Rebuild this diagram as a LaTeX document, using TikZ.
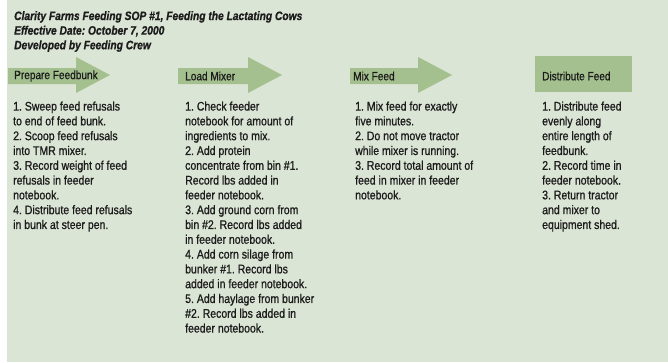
\documentclass[tikz,border=0pt]{standalone}
\usepackage{fontspec}
\setmainfont[FakeStretch=0.84,FakeBold=0.9]{Liberation Sans}
\frenchspacing
\definecolor{bgc}{HTML}{DBE5D5}
\definecolor{arrc}{HTML}{A4C08F}
\definecolor{txtc}{HTML}{1C1C1C}
\begin{document}
\begin{tikzpicture}[x=1pt,y=-1pt,
  stepshape/.style={fill=arrc,draw=none},
  title/.style={anchor=north west,inner sep=0pt,align=left,text=txtc,font=\fontsize{12.2}{14.6}\selectfont\bfseries\itshape},
  steplabel/.style={anchor=west,inner sep=0pt,text=txtc,font=\fontsize{12}{14}\selectfont},
  body/.style={anchor=north west,inner sep=0pt,align=left,text=txtc,font=\fontsize{12.5}{14.8}\selectfont}]
\useasboundingbox (0,0) rectangle (668,362);
\fill[white] (0,0) rectangle (668,362);
\fill[bgc] (7,0) rectangle (668,362);
% title
\node[title] (t) at (14,11) {Clarity Farms Feeding SOP \#1, Feeding the Lactating Cows\\Effective Date: October 7, 2000\\Developed by Feeding Crew};
% arrows
\fill[stepshape] (8,68) -- (76,68) -- (76,57) -- (110,75) -- (76,93) -- (76,84) -- (8,84) -- cycle;
\fill[stepshape] (178,68) -- (248,68) -- (248,57) -- (282,75) -- (248,93) -- (248,84) -- (178,84) -- cycle;
\fill[stepshape] (350,68) -- (418,68) -- (418,57) -- (452,75) -- (418,93) -- (418,84) -- (350,84) -- cycle;
\fill[stepshape] (535,56) rectangle (632,92);
\node[steplabel] (s1) at (14,76) {Prepare Feedbunk};
\node[steplabel] (s2) at (185,76) {Load Mixer};
\node[steplabel] (s3) at (353,76) {Mix Feed};
\node[steplabel] (s4) at (542,76) {Distribute Feed};
% bodies
\node[body] (b1) at (13,100) {\strut 1. Sweep feed refusals\\to end of feed bunk.\\2. Scoop feed refusals\\into TMR mixer.\\3. Record weight of feed\\refusals in feeder\\notebook.\\4. Distribute feed refusals\\in bunk at steer pen.};
\node[body] (b2) at (185,100) {\strut 1. Check feeder\\notebook for amount of\\ingredients to mix.\\2. Add protein\\concentrate from bin \#1.\\Record lbs added in\\feeder notebook.\\3. Add ground corn from\\bin \#2. Record lbs added\\in feeder notebook.\\4. Add corn silage from\\bunker \#1. Record lbs\\added in feeder notebook.\\5. Add haylage from bunker\\\#2. Record lbs added in\\feeder notebook.};
\node[body] (b3) at (355,100) {\strut 1. Mix feed for exactly\\five minutes.\\2. Do not move tractor\\while mixer is running.\\3. Record total amount of\\feed in mixer in feeder\\notebook.};
\node[body] (b4) at (542,100) {\strut 1. Distribute feed\\evenly along\\entire length of\\feedbunk.\\2. Record time in\\feeder notebook.\\3. Return tractor\\and mixer to\\equipment shed.};
\end{tikzpicture}
\end{document}
